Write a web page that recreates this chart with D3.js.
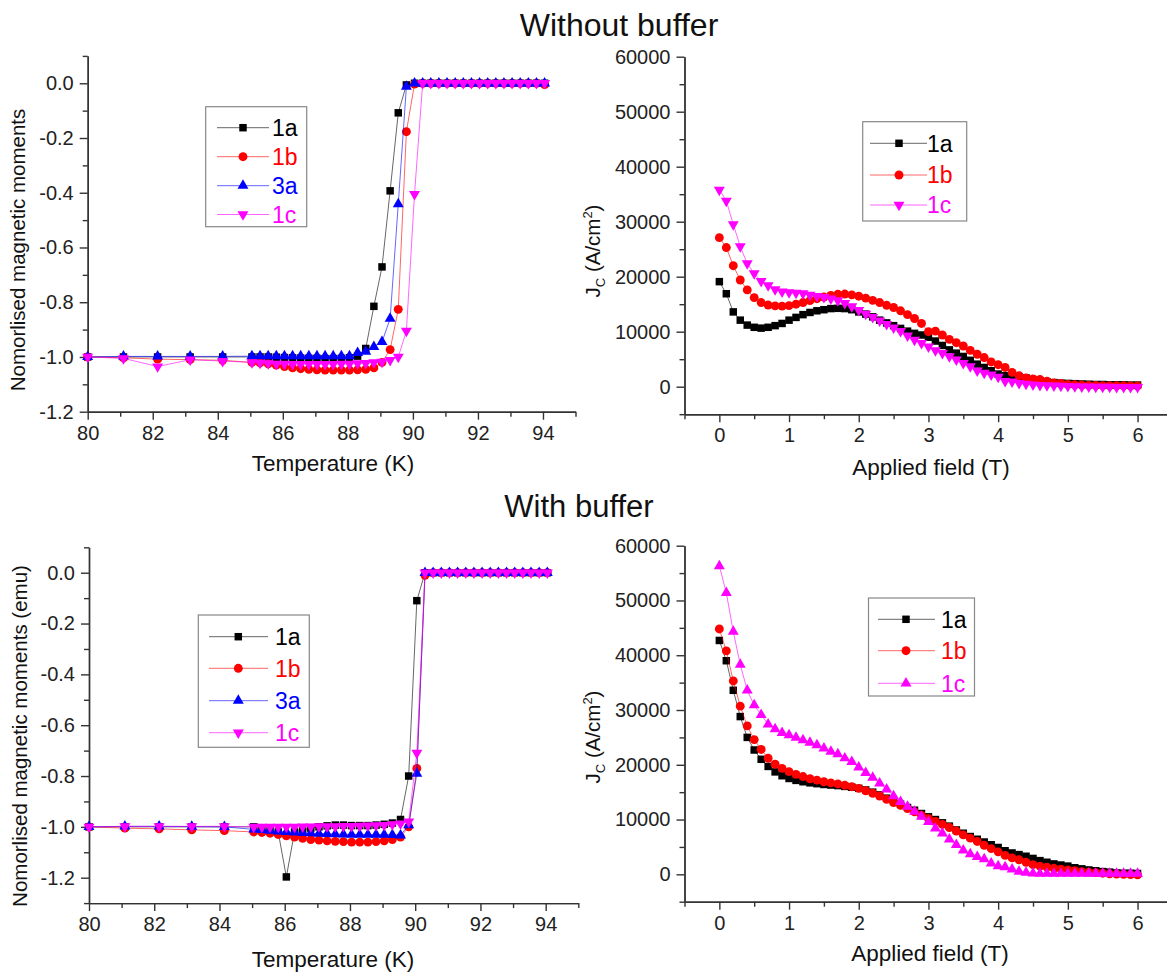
<!DOCTYPE html>
<html>
<head>
<meta charset="utf-8">
<script src="https://cdn.jsdelivr.net/npm/d3@7"></script>
<style>
  body { margin: 0; background: #fff; }
  svg { display: block; font-family: "Liberation Sans", Arial, sans-serif; }
</style>
</head>
<body>
<svg id="fig" width="1167" height="975"></svg>
<script>
// ---- data ----
var temps = [80, 81.1, 82.15, 83.15, 84.15, 85.05, 85.3, 85.55, 85.8, 86.05, 86.3, 86.55, 86.8, 87.05, 87.3, 87.55, 87.8, 88.05,
  88.3, 88.55, 88.8, 89.05, 89.3, 89.55, 89.8, 90.05, 90.3, 90.55, 90.8, 91.05, 91.3, 91.55, 91.8, 92.05, 92.3, 92.55, 92.8,
  93.05, 93.3, 93.55, 93.8, 94.05];

// without buffer, magnetic moment
var mNoBuf1a = [-1.0, -1.0, -1.0, -1.0, -1.0, -1.0, -1.0, -1.0, -1.001, -1.002, -1.003, -1.004, -1.005, -1.005, -1.006, -1.006,
  -1.005, -1.003, -0.997, -0.969, -0.815, -0.671, -0.393, -0.108, -0.006, 0, 0, 0, 0, 0, 0, 0, 0, 0, 0, 0, 0, 0, 0, 0, 0, 0];
var mNoBuf1b = [-1.0, -1.003, -1.008, -1.01, -1.012, -1.02, -1.022, -1.025, -1.03, -1.035, -1.04, -1.043, -1.045, -1.047, -1.048,
  -1.048, -1.048, -1.048, -1.047, -1.045, -1.04, -1.02, -0.973, -0.826, -0.177, -0.003, 0, 0, 0, 0, 0, 0, 0, 0, 0, 0, 0, 0, 0, 0, 0, -0.005];
var mNoBuf3a = [-1.0, -0.998, -0.998, -0.998, -0.998, -0.997, -0.997, -0.997, -0.997, -0.997, -0.997, -0.997, -0.997, -0.997,
  -0.997, -0.997, -0.997, -0.997, -0.985, -0.98, -0.963, -0.945, -0.86, -0.441, -0.012, 0, 0, 0, 0, 0, 0, 0, 0, 0, 0, 0, 0, 0, 0, 0, 0, 0];
var mNoBuf1c = [-1.0, -1.005, -1.035, -1.01, -1.015, -1.02, -1.022, -1.024, -1.025, -1.025, -1.026, -1.026, -1.026, -1.026, -1.026,
  -1.026, -1.025, -1.025, -1.024, -1.023, -1.02, -1.018, -1.012, -1.0, -0.905, -0.405, 0, 0, 0, 0, 0, 0, 0, 0, 0, 0, 0, 0, 0, 0, 0, 0];

// with buffer, magnetic moment
var mBuf1a = [-1.0, -1.0, -1.0, -1.0, -1.0, -1.0, -1.01, -1.015, -1.02, -1.197, -1.02, -1.012, -1.005, -1.0, -0.996, -0.993, -0.993,
  -0.995, -0.995, -0.995, -0.993, -0.99, -0.985, -0.971, -0.80, -0.11, 0, 0, 0, 0, 0, 0, 0, 0, 0, 0, 0, 0, 0, 0, 0, 0];
var mBuf1b = [-1.0, -1.005, -1.008, -1.012, -1.015, -1.02, -1.022, -1.025, -1.03, -1.035, -1.04, -1.045, -1.05, -1.052, -1.055,
  -1.057, -1.058, -1.06, -1.06, -1.06, -1.058, -1.055, -1.05, -1.04, -1.0, -0.77, -0.01, 0, 0, 0, 0, 0, 0, 0, 0, 0, 0, 0, 0, 0, 0, 0];
var mBuf3a = [-1.0, -0.998, -0.998, -0.999, -1.0, -1.01, -1.012, -1.015, -1.018, -1.02, -1.022, -1.024, -1.025, -1.026, -1.027,
  -1.028, -1.029, -1.03, -1.03, -1.03, -1.03, -1.03, -1.031, -1.033, -0.993, -0.79, 0, 0, 0, 0, 0, 0, 0, 0, 0, 0, 0, 0, 0, 0, 0, 0];
var mBuf1c = [-1.0, -0.998, -0.998, -0.998, -0.998, -1.0, -1.0, -1.0, -1.0, -1.0, -1.0, -0.999, -0.999, -0.998, -0.998, -0.998,
  -0.997, -0.997, -0.996, -0.995, -0.994, -0.993, -0.99, -0.987, -0.98, -0.709, 0, 0, 0, 0, 0, 0, 0, 0, 0, 0, 0, 0, 0, 0, 0, 0];

var fields = [0, 0.1, 0.2, 0.3, 0.4, 0.5, 0.6, 0.7, 0.8, 0.9, 1, 1.1, 1.2, 1.3, 1.4, 1.5, 1.6, 1.7, 1.8, 1.9, 2, 2.1, 2.2, 2.3,
  2.4, 2.5, 2.6, 2.7, 2.8, 2.9, 3, 3.1, 3.2, 3.3, 3.4, 3.5, 3.6, 3.7, 3.8, 3.9, 4, 4.1, 4.2, 4.3, 4.4, 4.5, 4.6, 4.7, 4.8, 4.9,
  5, 5.1, 5.2, 5.3, 5.4, 5.5, 5.6, 5.7, 5.8, 5.9, 6];

// without buffer, Jc
var jcNoBuf1a = [19100, 16900, 13600, 12100, 11200, 10800, 10650, 10800, 11100, 11500, 12100, 12600, 13100, 13500, 13800, 14000,
  14200, 14250, 14200, 14000, 13600, 13200, 12700, 12100, 11600, 11100, 10600, 10100, 9700, 9400, 9000, 8300, 7500, 6700, 6100,
  5500, 4800, 4100, 3500, 2900, 2300, 2000, 1900, 1800, 1600, 1300, 1100, 900, 750, 650, 600, 550, 500, 450, 400, 400, 350, 350,
  350, 300, 300];
var jcNoBuf1b = [27100, 25300, 22000, 19400, 17600, 16200, 15300, 14850, 14700, 14650, 14750, 15000, 15300, 15650, 16000, 16300,
  16600, 16800, 16850, 16700, 16450, 16100, 15700, 15300, 14800, 14400, 13800, 13100, 12400, 11500, 10000, 10100, 9400, 8600, 8000,
  7400, 6600, 5900, 5300, 4500, 4000, 3500, 2600, 2000, 1600, 1400, 1300, 1000, 700, 600, 400, 350, 300, 250, 250, 200, 200, 200,
  200, 150, 150];
var jcNoBuf1c = [35800, 33800, 29500, 25500, 22400, 20600, 19200, 18400, 17700, 17300, 17150, 17050, 16950, 16700, 16450, 16300,
  16000, 15700, 15200, 14600, 13900, 13250, 12650, 12000, 11350, 10750, 10100, 9300, 8500, 7900, 7300, 6600, 6100, 5500, 4900,
  4300, 3700, 2900, 2500, 2200, 1800, 1000, 900, 650, 500, 350, 300, 250, 200, 150, 100, 50, 0, 0, -50, -50, -50, -100, -100,
  -100, -100];

// with buffer, Jc
var jcBuf1a = [42700, 39000, 33600, 28800, 25000, 22700, 21000, 19700, 18700, 18000, 17500, 17150, 16900, 16700, 16550, 16400,
  16300, 16200, 16050, 15900, 15700, 15400, 15000, 14500, 13900, 13300, 12800, 12200, 11700, 11100, 10500, 10000, 9400, 8800, 8100,
  7500, 6900, 6400, 5900, 5400, 4900, 4300, 3900, 3600, 3300, 2900, 2500, 2200, 1900, 1700, 1500, 1200, 1000, 800, 650, 500, 400,
  250, 200, 200, 150];
var jcBuf1b = [44800, 40800, 35300, 30700, 27100, 24600, 22800, 21200, 20100, 19350, 18750, 18250, 17850, 17450, 17200, 16900,
  16700, 16500, 16250, 16000, 15700, 15250, 14800, 14300, 13700, 13100, 12600, 12000, 11400, 10800, 10200, 9650, 9100, 8550, 7900,
  7200, 6600, 6000, 5300, 4700, 4100, 3450, 3000, 2650, 2200, 1750, 1500, 1300, 1100, 950, 800, 650, 500, 400, 300, 200, 100, 50,
  0, -50, -100];
var jcBuf1c = [56300, 51400, 44300, 38300, 33600, 30900, 29100, 27400, 26500, 25850, 25400, 24950, 24500, 24050, 23600, 23000,
  22400, 21950, 21200, 20550, 19550, 18550, 17650, 16600, 15500, 14300, 13250, 12350, 11450, 10550, 9600, 8400, 7500, 6400, 5400,
  4400, 3700, 3200, 2800, 2000, 1500, 1300, 900, 500, 300, 200, 150, 150, 150, 150, 150, 150, 150, 150, 150, 150, 150, 150, 150,
  150, 150];

// tick values
var tempTicks = [80, 82, 84, 86, 88, 90, 92, 94];
var tempMinor = [81, 83, 85, 87, 89, 91, 93, 95];
var momTicks = [-1.2, -1.0, -0.8, -0.6, -0.4, -0.2, 0.0];
var momMinor = [-1.3, -1.1, -0.9, -0.7, -0.5, -0.3, -0.1, 0.1];
var fieldTicks = [0, 1, 2, 3, 4, 5, 6];
var fieldMinor = [-0.5, 0.5, 1.5, 2.5, 3.5, 4.5, 5.5, 6.5];
var jcTicks = [0, 10000, 20000, 30000, 40000, 50000, 60000];
var jcMinor = [-5000, 5000, 15000, 25000, 35000, 45000, 55000];

var svg = d3.select("#fig");

var shapes = {
  square: d3.symbol().type(d3.symbolSquare).size(56),
  circle: d3.symbol().type(d3.symbolCircle).size(62),
  up: d3.symbol().type(d3.symbolTriangle).size(52),
  down: d3.symbol().type(d3.symbolTriangle).size(52)
};

function marker(g, shape, color, cx, cy) {
  g.append("path")
    .attr("d", shapes[shape]())
    .attr("fill", color)
    .attr("transform", "translate(" + cx + "," + cy + ")" + (shape == "down" ? " rotate(180)" : ""));
}

function styleAxis(a) {
  a.select(".domain").attr("stroke", "#333").attr("stroke-width", 1.4);
  a.selectAll(".tick line").attr("stroke", "#333").attr("stroke-width", 1.4);
  a.selectAll(".tick text").attr("fill", "#222").style("font-size", "20px")
    .style("font-family", "'Liberation Sans', Arial, sans-serif");
}

function drawPanel(p) {
  var x = d3.scaleLinear().domain(p.xDomain).range(p.xRange);
  var y = d3.scaleLinear().domain(p.yDomain).range(p.yRange);
  var g = svg.append("g");

  // axes: minor then major
  var xm = g.append("g").attr("transform", "translate(0," + p.yRange[0] + ")")
    .call(d3.axisBottom(x).tickValues(p.xMinor).tickSize(5).tickSizeOuter(0).tickFormat(""));
  styleAxis(xm);
  var xa = g.append("g").attr("transform", "translate(0," + p.yRange[0] + ")")
    .call(d3.axisBottom(x).tickValues(p.xTicks).tickSize(8).tickSizeOuter(0).tickPadding(6).tickFormat(p.xFmt));
  styleAxis(xa);
  var ym = g.append("g").attr("transform", "translate(" + p.xRange[0] + ",0)")
    .call(d3.axisLeft(y).tickValues(p.yMinor).tickSize(5).tickSizeOuter(0).tickFormat(""));
  styleAxis(ym);
  var ya = g.append("g").attr("transform", "translate(" + p.xRange[0] + ",0)")
    .call(d3.axisLeft(y).tickValues(p.yTicks).tickSize(8).tickSizeOuter(0).tickPadding(6).tickFormat(p.yFmt));
  styleAxis(ya);

  // series
  p.series.forEach(function(s) {
    var pts = p.xs.map(function(v, i) { return [v, s.values[i]]; });
    g.append("path")
      .datum(pts)
      .attr("fill", "none")
      .attr("stroke", s.color)
      .attr("stroke-opacity", 0.6)
      .attr("stroke-width", 1)
      .attr("d", d3.line().x(function(d) { return x(d[0]); }).y(function(d) { return y(d[1]); }));
    pts.forEach(function(d) { marker(g, s.shape, s.color, x(d[0]), y(d[1])); });
  });

  // legend
  var L = p.legend;
  g.append("rect")
    .attr("x", L.x).attr("y", L.y).attr("width", L.w).attr("height", L.h)
    .attr("fill", "#fff").attr("stroke", "#888").attr("stroke-width", 1.2);
  p.series.forEach(function(s, i) {
    var ry = L.rows[i];
    g.append("line")
      .attr("x1", L.lx1).attr("x2", L.lx2).attr("y1", ry).attr("y2", ry)
      .attr("stroke", s.color).attr("stroke-opacity", 0.6).attr("stroke-width", 1);
    marker(g, s.shape, s.color, L.mx, ry);
    g.append("text")
      .attr("x", L.tx).attr("y", ry).attr("dy", "0.36em")
      .attr("fill", s.color).style("font-size", "23px")
      .text(s.name);
  });

  // axis titles
  g.append("text")
    .attr("x", p.xTitle.x).attr("y", p.xTitle.y)
    .attr("text-anchor", "middle").style("font-size", "22.5px").attr("fill", "#111")
    .text(p.xTitle.text);
  var yt = g.append("text")
    .attr("transform", "translate(" + p.yTitle.x + "," + p.yTitle.y + ") rotate(-90)")
    .attr("text-anchor", "middle").style("font-size", "20.5px").attr("fill", "#111");
  if (p.yTitle.jc) {
    yt.append("tspan").text("J");
    yt.append("tspan").attr("dy", 5).style("font-size", "13px").text("C");
    yt.append("tspan").attr("dy", -5).text(" (A/cm");
    yt.append("tspan").attr("dy", -8).style("font-size", "13px").text("2");
    yt.append("tspan").attr("dy", 8).text(")");
  } else {
    yt.text(p.yTitle.text);
  }
}

var fmtInt = function(d) { return String(d); };
var fmtOne = function(d) { return d.toFixed(1); };

// panel titles
svg.append("text").attr("x", 619).attr("y", 36).attr("text-anchor", "middle")
  .style("font-size", "32px").attr("fill", "#111").text("Without buffer");
svg.append("text").attr("x", 579).attr("y", 517).attr("text-anchor", "middle")
  .style("font-size", "31px").attr("fill", "#111").text("With buffer");

drawPanel({
  xs: temps, xDomain: [80, 95], xRange: [87.7, 575.5], yDomain: [-1.2, 0.1], yRange: [411.7, 55.9],
  xTicks: tempTicks, xMinor: tempMinor, yTicks: momTicks, yMinor: momMinor.slice(1), xFmt: fmtInt, yFmt: fmtOne,
  series: [
    {name: "1a", values: mNoBuf1a, color: "#000000", shape: "square"},
    {name: "1b", values: mNoBuf1b, color: "#ff0000", shape: "circle"},
    {name: "3a", values: mNoBuf3a, color: "#0000ff", shape: "up"},
    {name: "1c", values: mNoBuf1c, color: "#ff00ff", shape: "down"}
  ],
  legend: {x: 205.7, y: 106.7, w: 101, h: 120, rows: [127.7, 156.7, 185.7, 214.5], lx1: 217, lx2: 269, mx: 243, tx: 272},
  xTitle: {x: 333, y: 471, text: "Temperature (K)"},
  yTitle: {x: 25, y: 250, text: "Nomorlised magnetic moments"}
});

drawPanel({
  xs: fields, xDomain: [-0.5, 6.5], xRange: [684.5, 1172.4], yDomain: [-5000, 60000], yRange: [414.2, 56.7],
  xTicks: fieldTicks, xMinor: fieldMinor, yTicks: jcTicks, yMinor: jcMinor, xFmt: fmtInt, yFmt: fmtInt,
  series: [
    {name: "1a", values: jcNoBuf1a, color: "#000000", shape: "square"},
    {name: "1b", values: jcNoBuf1b, color: "#ff0000", shape: "circle"},
    {name: "1c", values: jcNoBuf1c, color: "#ff00ff", shape: "down"}
  ],
  legend: {x: 862.7, y: 121.7, w: 104, h: 99.3, rows: [143.3, 175, 205], lx1: 870, lx2: 927, mx: 899, tx: 927},
  xTitle: {x: 931, y: 474.5, text: "Applied field (T)"},
  yTitle: {x: 600, y: 251, jc: true}
});

drawPanel({
  xs: temps, xDomain: [80, 95], xRange: [89, 578.3], yDomain: [-1.3, 0.1], yRange: [903.1, 547.3],
  xTicks: tempTicks, xMinor: tempMinor, yTicks: momTicks, yMinor: momMinor, xFmt: fmtInt, yFmt: fmtOne,
  series: [
    {name: "1a", values: mBuf1a, color: "#000000", shape: "square"},
    {name: "1b", values: mBuf1b, color: "#ff0000", shape: "circle"},
    {name: "3a", values: mBuf3a, color: "#0000ff", shape: "up"},
    {name: "1c", values: mBuf1c, color: "#ff00ff", shape: "down"}
  ],
  legend: {x: 198.3, y: 615, w: 111, h: 132.3, rows: [636.7, 668.3, 700.7, 732.7], lx1: 209, lx2: 268, mx: 238.3, tx: 275},
  xTitle: {x: 333, y: 967, text: "Temperature (K)"},
  yTitle: {x: 26.5, y: 736, text: "Nomorlised magnetic moments (emu)"}
});

drawPanel({
  xs: fields, xDomain: [-0.5, 6.5], xRange: [684.5, 1172.4], yDomain: [-5000, 60000], yRange: [901.7, 545.7],
  xTicks: fieldTicks, xMinor: fieldMinor, yTicks: jcTicks, yMinor: jcMinor, xFmt: fmtInt, yFmt: fmtInt,
  series: [
    {name: "1a", values: jcBuf1a, color: "#000000", shape: "square"},
    {name: "1b", values: jcBuf1b, color: "#ff0000", shape: "circle"},
    {name: "1c", values: jcBuf1c, color: "#ff00ff", shape: "up"}
  ],
  legend: {x: 868.5, y: 598, w: 106, h: 98, rows: [619.3, 650.7, 683.3], lx1: 878, lx2: 935, mx: 906, tx: 941},
  xTitle: {x: 930, y: 961, text: "Applied field (T)"},
  yTitle: {x: 600, y: 737, jc: true}
});
</script>
</body>
</html>
